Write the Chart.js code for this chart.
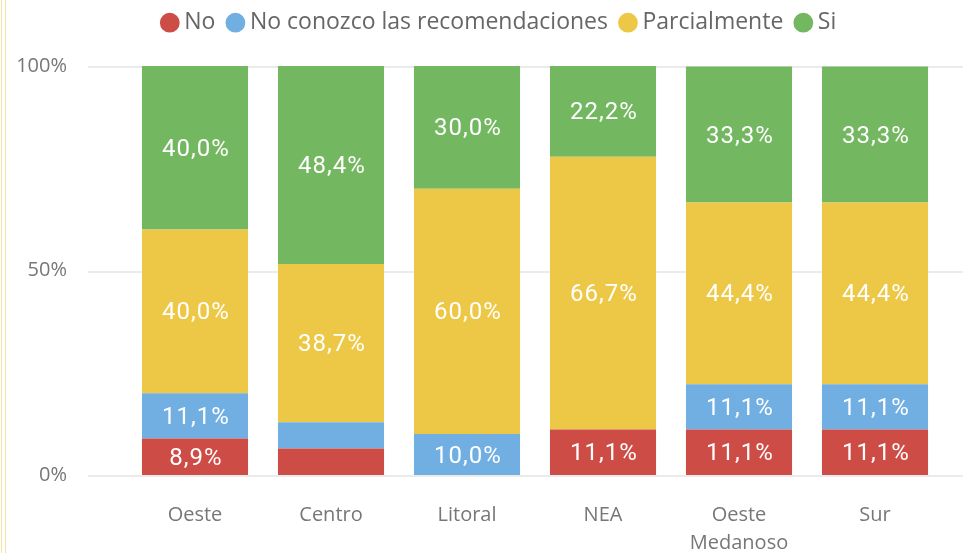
<!DOCTYPE html>
<html>
<head>
<meta charset="utf-8">
<script src="https://cdn.jsdelivr.net/npm/chart.js@4"></script>
<style>
  html, body { margin: 0; padding: 0; background: #fff; }
  #wrap { position: relative; width: 963px; height: 553px; }
  #edge { position: absolute; left: 1px; top: 0; width: 3px; height: 553px;
          border-left: 1px solid #f4e2a6; border-right: 1px solid #f4e2a6; }
</style>
</head>
<body>
<div id="wrap">
  <div id="edge"></div>
  <canvas id="c" width="963" height="553"></canvas>
</div>
<script>
const categories = ["Oeste", "Centro", "Litoral", "NEA", ["Oeste", "Medanoso"], "Sur"];
const seriesNames = ["No", "No conozco las recomendaciones", "Parcialmente", "Si"];
const valNo          = [8.9, 6.45, 0, 11.1, 11.1, 11.1];
const valNoConozco   = [11.1, 6.45, 10.0, 0, 11.1, 11.1];
const valParcial     = [40.0, 38.7, 60.0, 66.7, 44.4, 44.4];
const valSi          = [40.0, 48.4, 30.0, 22.2, 33.3, 33.3];
const yTicks = [0, 50, 100];
const colors = ["#CD4C46", "#71AFE2", "#ECC846", "#73B761"];
const seriesValues = [valNo, valNoConozco, valParcial, valSi];

const fontUI = "'Open Sans', 'Noto Sans', sans-serif";

const extendedGrid = {
  id: 'extendedGrid',
  beforeDatasetsDraw(chart) {
    const y = chart.scales.y;
    const ctx = chart.ctx;
    ctx.save();
    ctx.strokeStyle = '#ebebeb';
    ctx.lineWidth = 2;
    yTicks.forEach(t => {
      const py = Math.round(y.getPixelForValue(t)) + 1;
      ctx.beginPath();
      ctx.moveTo(88, py);
      ctx.lineTo(chart.width, py);
      ctx.stroke();
    });
    ctx.restore();
  }
};

const LEGEND_H = 66;
const legendShift = {
  id: 'legendShift',
  beforeLayout(chart) {
    const lg = chart.legend;
    if (lg && !lg._fixedH) {
      const orig = lg.fit.bind(lg);
      lg.fit = function () { orig(); this.height = LEGEND_H; };
      lg._fixedH = true;
    }
  },
  afterLayout(chart) {
    const lg = chart.legend;
    if (!lg) return;
    const padding = lg.options.labels.padding;
    const lineH = 23 * 1.2;
    const target = 25;
    const cur = lg.top + padding + lineH / 2;
    const d = cur - target;
    lg.top -= d; lg.bottom -= d;
    lg.left += 30; lg.right += 30;
  }
};

const barLabels = {
  id: 'barLabels',
  afterDatasetsDraw(chart) {
    const ctx = chart.ctx;
    ctx.save();
    ctx.fillStyle = '#ffffff';
    ctx.font = "400 24px Roboto, sans-serif";
    try { ctx.letterSpacing = '1px'; } catch (e) {}
    ctx.textAlign = 'center';
    ctx.textBaseline = 'middle';
    chart.data.datasets.forEach((ds, di) => {
      const meta = chart.getDatasetMeta(di);
      meta.data.forEach((el, i) => {
        const v = ds.data[i];
        if (v < 8) return;
        const c = el.getCenterPoint();
        ctx.fillText(v.toFixed(1).replace('.', ',') + '%', c.x + 1, c.y + 2);
      });
    });
    ctx.restore();
  }
};

new Chart(document.getElementById('c'), {
  type: 'bar',
  data: {
    labels: categories,
    datasets: seriesNames.map((n, i) => ({
      label: n,
      data: seriesValues[i],
      backgroundColor: colors[i],
      borderWidth: 0,
      barPercentage: 0.78,
      categoryPercentage: 1.0
    }))
  },
  options: {
    responsive: false,
    animation: false,
    layout: { padding: { left: 0, right: 20, top: 0, bottom: 0 } },
    plugins: {
      tooltip: { enabled: false },
      legend: {
        position: 'top',
        labels: {
          usePointStyle: true,
          pointStyle: 'circle',
          boxWidth: 6,
          boxHeight: 14,
          padding: 17,
          color: '#666666',
          font: { family: fontUI, size: 23 }
        }
      }
    },
    scales: {
      x: {
        stacked: true,
        grid: { display: false, drawTicks: false },
        border: { display: false },
        ticks: { color: '#777777', padding: 26, font: { family: fontUI, size: 20, lineHeight: 1.4 } },
        afterFit(s) { s.height = 78; }
      },
      y: {
        stacked: true,
        min: 0, max: 100,
        afterBuildTicks(s) { s.ticks = yTicks.map(v => ({ value: v })); },
        grid: { display: false, drawTicks: false },
        border: { display: false },
        ticks: {
          color: '#777777', padding: 60,
          font: { family: fontUI, size: 20 },
          callback: v => v + '%'
        },
        afterFit(s) { s.width = 127; s.paddingTop = 12; s.paddingBottom = 12; }
      }
    }
  },
  plugins: [extendedGrid, barLabels, legendShift]
});
</script>
</body>
</html>
